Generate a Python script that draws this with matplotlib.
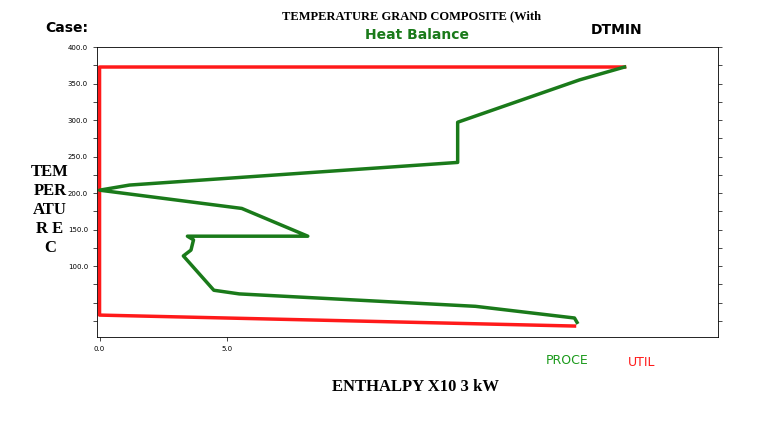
import matplotlib.pyplot as plt
from matplotlib.ticker import MultipleLocator

# grand composite curve (enthalpy x10^3 kW, temperature C)
proc_h = [20.67, 18.9, 14.1, 14.1, 1.18, 0.0, 5.6, 8.2, 3.46, 3.7, 3.6, 3.3, 4.5, 5.5, 14.8, 18.7, 18.8]
proc_t = [372.6, 355, 297, 242, 211, 204, 179, 141, 141, 136, 122, 114, 67, 62, 45, 29, 23]
util_h = [20.67, 0.0, 0.0, 18.7]
util_t = [372.6, 372.6, 33, 18]
yticks = [100, 150, 200, 250, 300, 350, 400]
xticks = [0, 5]

fig = plt.figure(figsize=(7.64, 4.25), dpi=100)
ax = fig.add_axes([97 / 764, 1 - 337 / 425, 621 / 764, 290 / 425])
ax.plot(util_h, util_t, color="#ff1a1a", lw=2.5)
ax.plot(proc_h, proc_t, color="#1a7a1a", lw=2.5)
ax.set_xlim(-0.1, 24.35)
ax.set_ylim(3, 400)
ax.set_yticks(yticks)
ax.set_yticklabels([f"{v:.1f}" for v in yticks], fontsize=5)
ax.set_xticks(xticks)
ax.set_xticklabels([f"{v:.1f}" for v in xticks], fontsize=5)
ax.yaxis.set_minor_locator(MultipleLocator(25))
ax.tick_params(axis="y", which="both", right=True, direction="out", length=3, width=0.5)
ax.tick_params(axis="x", length=3, width=0.5)
for s in ax.spines.values():
    s.set_linewidth(0.6)

fig.text(45 / 764, 1 - 28 / 425, "Case:", fontsize=10, fontweight="bold", va="center")
fig.text(412 / 764, 1 - 16 / 425, "TEMPERATURE GRAND COMPOSITE (With", fontsize=9,
         family="Liberation Serif", fontweight="bold", ha="center", va="center")
fig.text(417 / 764, 1 - 35 / 425, "Heat Balance", fontsize=10, color="#1a7a1a",
         fontweight="bold", ha="center", va="center")
fig.text(617 / 764, 1 - 30 / 425, "DTMIN", fontsize=10, fontweight="bold", ha="center", va="center")
fig.text(50 / 764, 1 - 210 / 425, "TEM\nPER\nATU\nR E\nC", fontsize=12, family="Liberation Serif",
         fontweight="bold", ha="center", va="center", linespacing=1.25)
fig.text(567 / 764, 1 - 360 / 425, "PROCE", fontsize=9, color="#1a9a1a", ha="center", va="center")
fig.text(642 / 764, 1 - 362 / 425, "UTIL", fontsize=9, color="#ff1a1a", ha="center", va="center")
fig.text(415 / 764, 1 - 387 / 425, "ENTHALPY X10 3 kW", fontsize=12, family="Liberation Serif",
         fontweight="bold", ha="center", va="center")

fig.savefig("out.png", dpi=100)
